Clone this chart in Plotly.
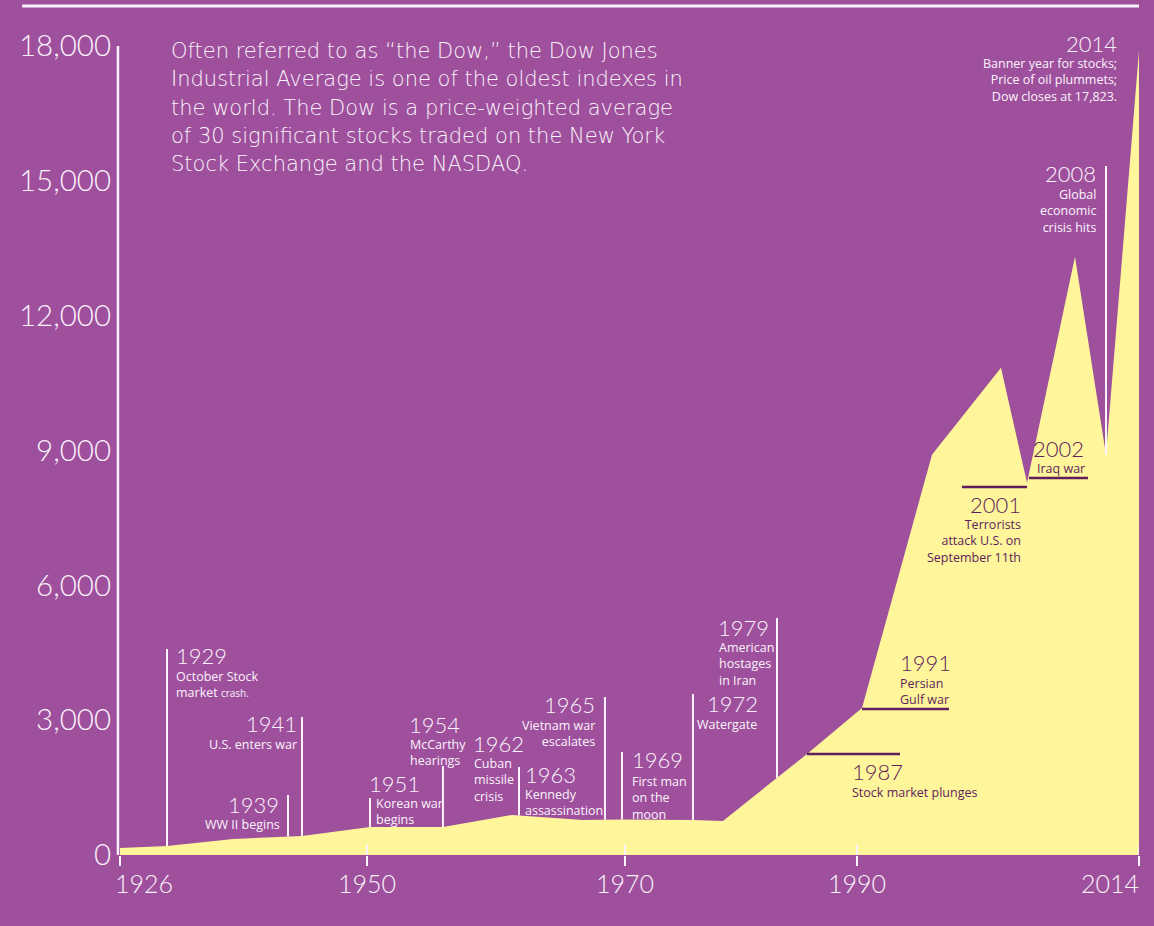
import numpy as np
import plotly.graph_objects as go

# ---------------- data ----------------
# x positions are along the infographic's (hand-drawn) timeline, in year-like units
area_x = [1926.0, 1930.06, 1935.76, 1941.72, 1947.59, 1953.89, 1959.85, 1965.98,
          1969.35, 1975.48, 1978.07, 1982.74, 1985.33, 1990.08, 1996.12, 2002.08,
          2004.33, 2008.47, 2011.15, 2014.0]
area_dow = [156, 200, 356, 423, 623, 623, 890, 780,
            790, 780, 757, 1714, 2248, 3272, 8903, 10840,
            8280, 13310, 8903, 17900]

tick_pos = [1926.0, 1947.33, 1969.61, 1989.65, 2014.0]
tick_labels = ["1926", "1950", "1970", "1990", "2014"]
y_ticks = [0, 3000, 6000, 9000, 12000, 15000, 18000]

# events marked by a white vertical stem (timeline position, stem top value)
stem_years = ["1929", "1939", "1941", "1951", "1954", "1963", "1965", "1969", "1972", "1979", "2008"]
stem_x = [1930.06, 1940.51, 1941.72, 1947.59, 1953.89, 1960.46, 1967.88, 1969.35, 1975.48, 1982.74, 2011.15]
stem_top = [4584, 1335, 3071, 1268, 1980, 1958, 3516, 2292, 3583, 5274, 15332]

# events marked by a dark horizontal rule inside the area
rule_years = ["1987", "1991", "2001", "2002"]
rule_x0 = [1985.33, 1990.08, 1998.71, 2004.50]
rule_x1 = [1993.36, 1997.59, 2004.33, 2009.60]
rule_y = [2247, 3249, 8189, 8389]

# events with no marker
free_years = ["1962", "2014"]
free_x = [1959.85, 2014.0]
free_y = [890, 17900]

descriptions = {
    "1929": "October Stock<br>market <span style='font-size:10px'>crash.</span>",
    "1939": "WW II begins",
    "1941": "U.S. enters war",
    "1951": "Korean war<br>begins",
    "1954": "McCarthy<br>hearings",
    "1962": "Cuban<br>missile<br>crisis",
    "1963": "Kennedy<br>assassination",
    "1965": "Vietnam war<br>escalates",
    "1969": "First man<br>on the<br>moon",
    "1972": "Watergate",
    "1979": "American<br>hostages<br>in Iran",
    "1987": "Stock market plunges",
    "1991": "Persian<br>Gulf war",
    "2001": "Terrorists<br>attack U.S. on<br>September 11th",
    "2002": "Iraq war",
    "2008": "Global<br>economic<br>crisis hits",
    "2014": "Banner year for stocks;<br>Price of oil plummets;<br>Dow closes at 17,823.",
}

intro_lines = [
    "Often referred to as \u201cthe Dow,\u201d the Dow Jones",
    "Industrial Average is one of the oldest indexes in",
    "the world. The Dow is a price-weighted average",
    "of 30 significant stocks traded on the New York",
    "Stock Exchange and the NASDAQ.",
]

# ---------------- styling ----------------
PURPLE = "#9E509D"
YELLOW = "#FFF59B"
WHITE = "#FBF3FB"
DARK = "#5E1F5B"
FONT = "Lato"
FONT2 = "Open Sans"
FONT3 = "DejaVu Sans"

# label placement: (xanchor, xshift, year yshift, desc yshift) in px relative to the event anchor
place = {
    "1929": ("left", 7, -7, -17),
    "1939": ("right", -7, -9, -19),
    "1941": ("right", -3, -7, -17),
    "1951": ("left", -3, 15, 5),
    "1954": ("left", -36, 42, 32),
    "1962": ("left", -41, 72, 62),
    "1963": ("left", 4, -7, -17),
    "1965": ("right", -8, -8, -18),
    "1969": ("left", 8, -8, -19),
    "1972": ("right", 67, -10, -20),
    "1979": ("left", -61, -10, -19),
    "1987": ("left", 43, -17, -28),
    "1991": ("left", 36, 46, 36),
    "2001": ("right", -4, -18, -27),
    "2002": ("right", -2, 29, 20),
    "2008": ("right", -8, -8, -18),
    "2014": ("right", -20, 7, -3),
}
desc_x_extra = {"1951": 7, "1954": 1, "1972": -1, "1979": 1, "2002": 1, "1962": 1, "1939": 1}

fig = go.Figure()

fig.add_trace(go.Scatter(x=area_x, y=area_dow, mode="lines", fill="tozeroy",
                         fillcolor=YELLOW, line=dict(width=0, color=YELLOW),
                         hoverinfo="skip", showlegend=False))

# white stems
stem_base = np.interp(stem_x, area_x, area_dow)
sx, sy = [], []
for x, b, t in zip(stem_x, stem_base, stem_top):
    sx += [x, x, None]
    sy += [b, t, None]
fig.add_trace(go.Scatter(x=sx, y=sy, mode="lines", line=dict(color=WHITE, width=2),
                         hoverinfo="skip", showlegend=False))

# dark rules
rx, ry = [], []
for x0, x1, y in zip(rule_x0, rule_x1, rule_y):
    rx += [x0, x1, None]
    ry += [y, y, None]
fig.add_trace(go.Scatter(x=rx, y=ry, mode="lines", line=dict(color=DARK, width=2.5),
                         hoverinfo="skip", showlegend=False))

# anchors
anchors = {}
for yr, x, t in zip(stem_years, stem_x, stem_top):
    anchors[yr] = (x, t, WHITE)
for yr, x0, x1, y in zip(rule_years, rule_x0, rule_x1, rule_y):
    xa = x1 if place[yr][0] == "right" else x0
    anchors[yr] = (xa, y, DARK)
for yr, x, y in zip(free_years, free_x, free_y):
    anchors[yr] = (x, y, WHITE)

annotations = []
for yr, (ax, ay, col) in anchors.items():
    xanc, xs, ys_year, ys_desc = place[yr]
    annotations.append(dict(x=ax, y=ay, xref="x", yref="y", text=yr, showarrow=False,
                            xanchor=xanc, yanchor="middle", xshift=xs, yshift=ys_year,
                            font=dict(family=FONT, size=22, color=col, weight=300)))
    annotations.append(dict(x=ax, y=ay, xref="x", yref="y", text=descriptions[yr], showarrow=False,
                            xanchor=xanc, yanchor="top", align=xanc,
                            xshift=xs + desc_x_extra.get(yr, 0), yshift=ys_desc,
                            font=dict(family=FONT2, size=12.5, color=col, weight=400)))

# x tick labels (end labels tucked inside the axis span)
for i, (tp, tl) in enumerate(zip(tick_pos, tick_labels)):
    xanc = "left" if i == 0 else ("right" if i == len(tick_pos) - 1 else "center")
    xs = -7 if i == 0 else (2 if i == len(tick_pos) - 1 else 0)
    annotations.append(dict(x=tp, y=0, xref="x", yref="paper", text=tl, showarrow=False,
                            xanchor=xanc, yanchor="middle", xshift=xs, yshift=-28,
                            font=dict(family=FONT, size=25, color=WHITE, weight=300)))

# intro paragraph, one annotation per line for exact leading
for i, line in enumerate(intro_lines):
    annotations.append(dict(x=0, y=1, xref="paper", yref="paper", text=line,
                            showarrow=False, xanchor="left", yanchor="middle", align="left",
                            xshift=49, yshift=-5 - 28.3 * i,
                            font=dict(family=FONT3, size=21, color=WHITE, weight=300)))

shapes = [
    # y axis line
    dict(type="line", xref="paper", yref="y", x0=-0.002, x1=-0.002, y0=-200, y1=18200,
         line=dict(color=WHITE, width=2.5)),
    # top rule
    dict(type="line", xref="paper", yref="paper", x0=-0.096, x1=1.0, y0=1.0494, y1=1.0494,
         line=dict(color=WHITE, width=3)),
]
for tp in tick_pos[1:]:
    shapes.append(dict(type="line", xref="x", yref="y", x0=tp, x1=tp, y0=0, y1=230,
                       line=dict(color=WHITE, width=2)))

fig.update_layout(
    width=1154, height=926,
    margin=dict(l=120, r=15, t=46, b=71),
    paper_bgcolor=PURPLE, plot_bgcolor=PURPLE,
    showlegend=False,
    annotations=annotations,
    shapes=shapes,
    xaxis=dict(range=[1926, 2014], tickvals=tick_pos, showticklabels=False,
               showgrid=False, zeroline=False, showline=False,
               ticks="outside", ticklen=10, tickwidth=2, tickcolor=WHITE),
    yaxis=dict(range=[0, 18000], tickvals=y_ticks, tickformat=",d",
               showgrid=False, zeroline=False, showline=False, ticks="",
               ticklabelstandoff=8,
               tickfont=dict(family=FONT, size=29.5, color=WHITE, weight=300)),
)

fig.write_html("out.html")
